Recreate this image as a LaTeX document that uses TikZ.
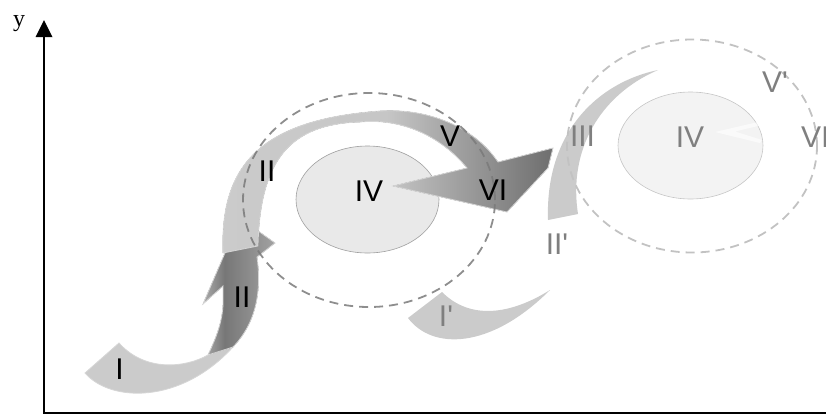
\documentclass[tikz,border=0pt]{standalone}
\usepackage{fontspec}
\setmainfont{Liberation Sans}
\newfontfamily\labfont{Liberation Sans}
\newfontfamily\axisfont{Liberation Serif}
\usetikzlibrary{shapes.geometric}
\definecolor{bandl}{HTML}{CBCBCB}
\definecolor{bandedge}{HTML}{D6D6D6}
\definecolor{ua}{HTML}{CBCBCB}
\definecolor{ub}{HTML}{C6C6C6}
\definecolor{uc}{HTML}{A6A6A6}
\definecolor{ud}{HTML}{6E6E6E}
\definecolor{la}{HTML}{ABABAB}
\definecolor{lb}{HTML}{777777}
\definecolor{lc}{HTML}{A2A2A2}
\definecolor{dashd}{HTML}{7A7A7A}
\definecolor{dashl}{HTML}{C2C2C2}
\definecolor{labgray}{HTML}{7F7F7F}
\definecolor{ellfill}{HTML}{E9E9E9}
\definecolor{ellfilll}{HTML}{F3F3F3}
\pgfdeclarehorizontalshading{upsh}{100bp}{color(0bp)=(ua); color(25bp)=(ua); color(50bp)=(ub); color(59bp)=(uc); color(75bp)=(ud); color(100bp)=(ud)}
\pgfdeclarehorizontalshading{lowsh}{100bp}{color(0bp)=(la); color(25bp)=(la); color(40bp)=(lb); color(75bp)=(lc); color(100bp)=(lc)}
\begin{document}
\begin{tikzpicture}[x=1pt,y=-1pt,
  lab/.style={font=\labfont\fontsize{30}{30}\selectfont, inner sep=0pt},
  labg/.style={lab, text=labgray},
  band/.style={fill=bandl},
  edged/.style={draw=bandedge, line width=0.8pt},
  dashdark/.style={ellipse, draw=dashd, line width=1.8pt, dash pattern=on 9pt off 6pt, inner sep=0pt},
  dashlight/.style={ellipse, draw=dashl, line width=1.8pt, dash pattern=on 9pt off 6pt, inner sep=0pt},
  core/.style={ellipse, inner sep=0pt, line width=0.6pt},
  axisline/.style={line width=1.5pt, draw=black}]
\useasboundingbox (0,0) rectangle (826,418);

% axes
\coordinate (O) at (44,413);
\coordinate (Ytop) at (44,36);
\coordinate (Xend) at (826,413);
\draw[axisline] (Xend) -- (O) -- (Ytop);
\fill[black] (44,20) -- (52.5,37) -- (35.5,37) -- cycle;
\node[font=\axisfont\fontsize{24}{24}\selectfont, inner sep=0pt] (ylab) at (19,24) {y};

% inner ellipses
\node[core, draw=gray!75, fill=ellfill, minimum width=143pt, minimum height=107pt] (e1) at (367.5,199.5) {};
\node[core, draw=gray!45, fill=ellfilll, minimum width=145pt, minimum height=107pt] (e2) at (690.5,145.5) {};
\fill[white, opacity=0.6] (715,132) -- (758,122) -- (762,125) -- (735,131.5) -- (762,140) -- (760,143) -- cycle;

% I band
\fill[band, edged] (85,373) .. controls (110,402) and (180,405) .. (233,347) -- (208,355) .. controls (185,368) and (145,372) .. (119,343) -- cycle;
% lower dark arrow (II)
\fill[shading=lowsh, edged] (208,355) .. controls (214,342) and (222,325) .. (223,305) -- (223,286) -- (203,304) -- (240,218) -- (275,243) -- (257,257) .. controls (261,285) and (259,320) .. (233,347) -- cycle;
% upper arrow (II -> V -> VI)
\fill[shading=upsh, edged] (223,253) .. controls (220,170) and (255,120) .. (380,111) .. controls (430,108) and (475,128) .. (498,162) -- (553,148) -- (548,168) -- (507,212) -- (393,186) -- (467,168) .. controls (440,135) and (400,118) .. (360,122) .. controls (290,124) and (260,160) .. (258,246) -- cycle;

% right bands
\fill[band] (658,70) .. controls (600,82) and (545,130) .. (548,220) -- (578,214) .. controls (568,150) and (600,95) .. (658,70) -- cycle;
\fill[band] (408,318) .. controls (432,350) and (490,350) .. (550,290) .. controls (510,315) and (470,320) .. (442,292) -- cycle;

% dashed circles
\node[dashdark, opacity=0.85, minimum width=252pt, minimum height=214pt] (c1) at (369,200) {};
\node[dashlight, minimum width=250pt, minimum height=213pt] (c2) at (692,146) {};

% labels
\node[lab] (tI) at (119.5,369) {I};
\node[lab] (tIIa) at (242,297.5) {II};
\node[lab] (tIIb) at (267,171) {II};
\node[lab] (tIV) at (369,191) {IV};
\node[lab] (tV) at (450,136) {V};
\node[lab] (tVI) at (493,190) {VI};
\node[labg] (tIII) at (582.5,136.5) {III};
\node[labg] (tIVr) at (690,137) {IV};
\node[labg, anchor=west] (tVIr) at (801,137) {VI};
\node[labg] (tVp) at (775,82) {V'};
\node[labg] (tIIp) at (557,244) {II'};
\node[labg] (tIp) at (446,316) {I'};
\end{tikzpicture}
\end{document}
